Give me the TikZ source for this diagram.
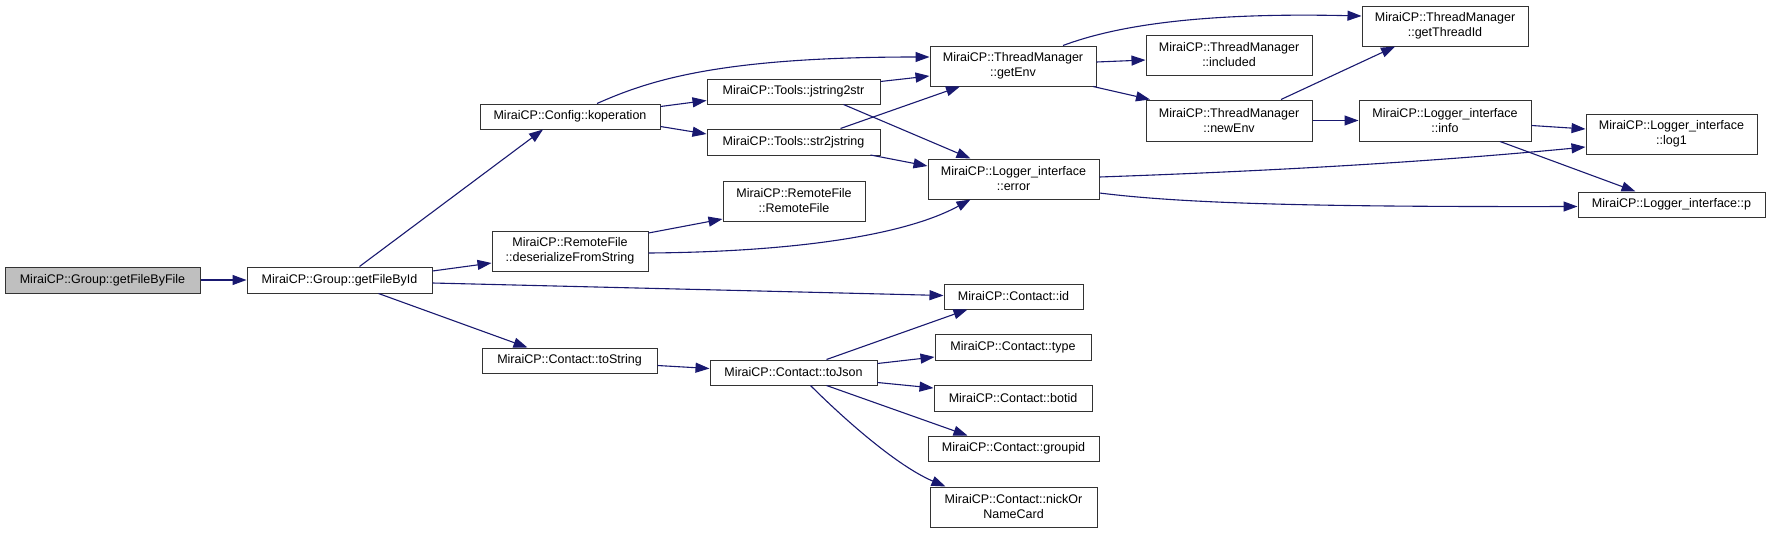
\documentclass[tikz,border=0pt]{standalone}
\usepackage{fontspec}
\setmainfont{Liberation Sans}
\usetikzlibrary{arrows.meta,calc}
\definecolor{edgeblue}{HTML}{191970}
\definecolor{leafgray}{HTML}{BFBFBF}
\tikzset{
  box/.style={draw=black!80, line width=1pt, fill=white, inner sep=0pt, align=center,
    font=\fontsize{12.5}{15}\selectfont},
  call/.style={draw=edgeblue, line width=1.1pt, -{Triangle[length=14pt,width=10pt]}, color=edgeblue}
}
\begin{document}
\begin{tikzpicture}[x=1pt,y=-1pt]
\useasboundingbox[fill=white] (0,0) rectangle (1771,533);
% nodes
\node[box, fill=leafgray, minimum width=195pt, minimum height=26pt] (ff) at (102.5,280) {MiraiCP::Group::getFileByFile};
\node[box, minimum width=185pt, minimum height=26pt] (fi) at (339.5,280) {MiraiCP::Group::getFileById};
\node[box, minimum width=180pt, minimum height=25pt] (kop) at (570,116.5) {MiraiCP::Config::koperation};
\node[box, minimum width=173pt, minimum height=25pt] (j2s) at (793.5,91.5) {MiraiCP::Tools::jstring2str};
\node[box, minimum width=173pt, minimum height=26pt] (s2j) at (793.5,142) {MiraiCP::Tools::str2jstring};
\node[box, minimum width=142pt, minimum height=40pt] (rf) at (794,201) {MiraiCP::RemoteFile\\::RemoteFile};
\node[box, minimum width=156pt, minimum height=40pt] (des) at (570,251) {MiraiCP::RemoteFile\\::deserializeFromString};
\node[box, minimum width=166pt, minimum height=40pt] (env) at (1013,66) {MiraiCP::ThreadManager\\::getEnv};
\node[box, minimum width=166pt, minimum height=40pt] (inc) at (1229,55) {MiraiCP::ThreadManager\\::included};
\node[box, minimum width=166pt, minimum height=41pt] (new) at (1229,120.5) {MiraiCP::ThreadManager\\::newEnv};
\node[box, minimum width=171pt, minimum height=40pt] (err) at (1013.5,179) {MiraiCP::Logger\_interface\\::error};
\node[box, minimum width=166pt, minimum height=40pt] (tid) at (1445,26) {MiraiCP::ThreadManager\\::getThreadId};
\node[box, minimum width=172pt, minimum height=41pt] (info) at (1445,120.5) {MiraiCP::Logger\_interface\\::info};
\node[box, minimum width=171pt, minimum height=40pt] (log1) at (1671.5,134) {MiraiCP::Logger\_interface\\::log1};
\node[box, minimum width=187pt, minimum height=25pt] (p) at (1671.5,204.5) {MiraiCP::Logger\_interface::p};
\node[box, minimum width=175pt, minimum height=25pt] (ts) at (569.5,360.5) {MiraiCP::Contact::toString};
\node[box, minimum width=167pt, minimum height=25pt] (tj) at (793.5,372.5) {MiraiCP::Contact::toJson};
\node[box, minimum width=139pt, minimum height=25pt] (id) at (1013.5,296.5) {MiraiCP::Contact::id};
\node[box, minimum width=156pt, minimum height=26pt] (type) at (1013,347) {MiraiCP::Contact::type};
\node[box, minimum width=158pt, minimum height=26pt] (botid) at (1013,398) {MiraiCP::Contact::botid};
\node[box, minimum width=171pt, minimum height=25pt] (gid) at (1013.5,448.5) {MiraiCP::Contact::groupid};
\node[box, minimum width=167pt, minimum height=40pt] (nick) at (1013.5,507) {MiraiCP::Contact::nickOr\\NameCard};
% edges
\draw[call] (ff.east) -- (fi.west);
\draw[call] ($(fi.north)+(20,0)$) -- ($(kop.south)+(-27,0)$);
\draw[call] ($(fi.east)+(0,-9)$) -- ($(des.west)+(0,12)$);
\draw[call] ($(fi.east)+(0,3)$) -- ($(id.west)+(0,-1)$);
\draw[call] ($(fi.south)+(39,0)$) -- ($(ts.north)+(-42,0)$);
\draw[call] ($(kop.north)+(27,0)$) .. controls (650,80) and (720,57) .. ($(env.west)+(0,-9)$);
\draw[call] ($(kop.east)+(0,-10)$) -- ($(j2s.west)+(0,9)$);
\draw[call] ($(kop.east)+(0,10)$) -- ($(s2j.west)+(0,-8)$);
\draw[call] ($(j2s.east)+(0,-10)$) -- ($(env.west)+(0,10)$);
\draw[call] ($(s2j.north)+(47,0)$) -- ($(env.south)+(-53,0)$);
\draw[call] ($(j2s.south)+(50,0)$) -- ($(err.north)+(-43,0)$);
\draw[call] ($(s2j.east)+(-10,13)$) -- ($(err.west)+(0,-13)$);
\draw[call] ($(des.east)+(0,2)$) .. controls (780,252) and (900,238) .. ($(err.south)+(-43,0)$);
\draw[call] ($(des.east)+(0,-18)$) -- ($(rf.west)+(0,18)$);
\draw[call] ($(env.north)+(50,0)$) .. controls (1110,28) and (1190,12) .. ($(tid.west)+(0,-10)$);
\draw[call] ($(env.east)+(0,-4)$) -- ($(inc.west)+(0,5)$);
\draw[call] ($(env.south)+(80,0)$) -- ($(new.north)+(-79,0)$);
\draw[call] ($(new.north)+(52,0)$) -- ($(tid.south)+(-50,0)$);
\draw[call] (new.east) -- (info.west);
\draw[call] ($(info.east)+(0,5)$) -- ($(log1.west)+(0,-5)$);
\draw[call] ($(info.south)+(55,0)$) -- ($(p.north)+(-36,0)$);
\draw[call] ($(err.east)+(0,-2)$) .. controls (1300,170) and (1450,160) .. ($(log1.west)+(0,13)$);
\draw[call] ($(err.east)+(0,14)$) .. controls (1180,203) and (1300,207) .. ($(p.west)+(0,2)$);
\draw[call] ($(ts.east)+(0,5)$) -- ($(tj.west)+(0,-4)$);
\draw[call] ($(tj.north)+(33,0)$) -- ($(id.south)+(-46,0)$);
\draw[call] ($(tj.east)+(0,-9)$) -- ($(type.west)+(0,10)$);
\draw[call] ($(tj.east)+(0,10)$) -- ($(botid.west)+(0,-10)$);
\draw[call] ($(tj.south)+(33,0)$) -- ($(gid.north)+(-46,0)$);
\draw[call] ($(tj.south)+(17,0)$) .. controls (840,415) and (895,465) .. ($(nick.north)+(-68,0)$);
\end{tikzpicture}
\end{document}
